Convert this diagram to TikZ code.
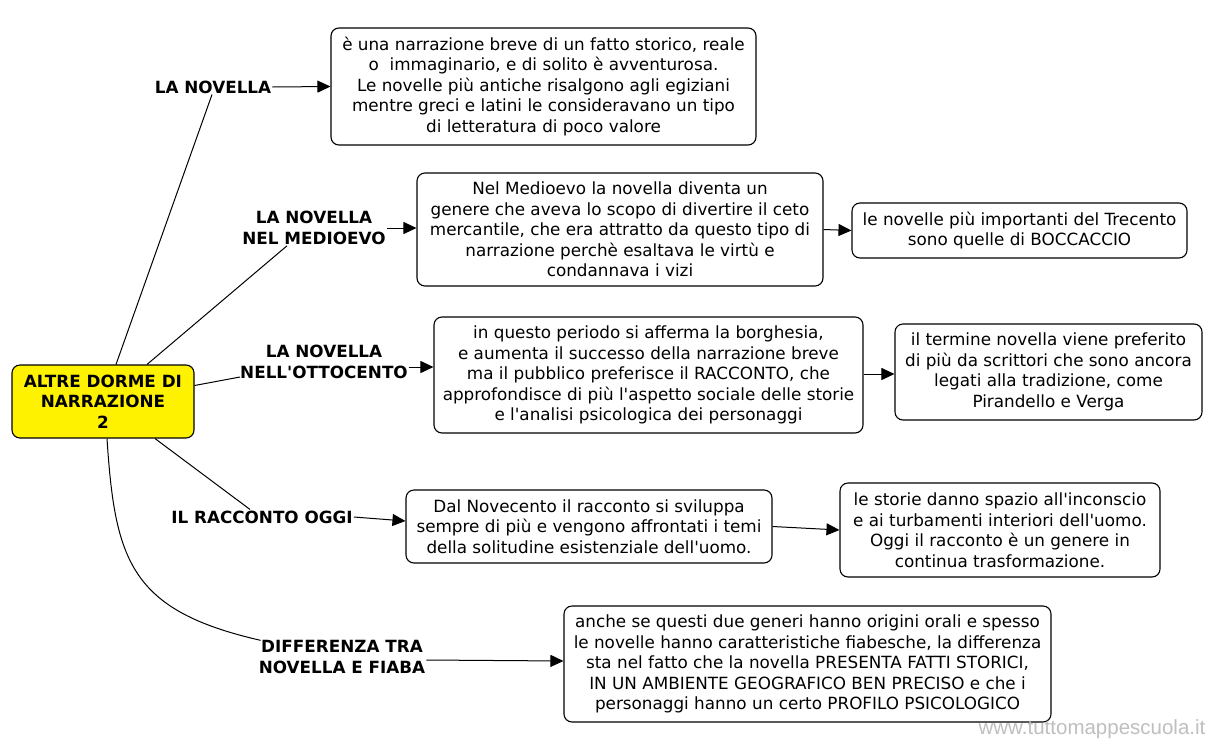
\documentclass[tikz,border=0pt]{standalone}
\usepackage{fontspec}
\setmainfont{DejaVu Sans}[Ligatures=TeXOff]
\newfontfamily\wmfont{Liberation Sans}
\usetikzlibrary{arrows.meta,calc}
\begin{document}
\begin{tikzpicture}[x=1pt,y=-1pt,
  txt/.style={font=\fontsize{16.8}{20.5}\selectfont},
  box/.style={txt,draw,rounded corners=8pt,line width=1.1pt,align=center,inner sep=0pt},
  root/.style={box,fill=yellow,font=\bfseries\fontsize{16.8}{20.5}\selectfont},
  lab/.style={font=\bfseries\fontsize{16.8}{20.5}\selectfont,align=center,inner sep=1pt},
  link/.style={line width=1pt},
  arr/.style={line width=1pt,-{Triangle[length=13pt,width=12pt]}}]
\useasboundingbox (0,0) rectangle (1212,739);
\fill[white] (0,0) rectangle (1212,739);

\node[root,minimum width=182pt,minimum height=73pt] (root) at (103,401.5) {ALTRE DORME DI\\NARRAZIONE\\2};

\node[lab] (lab1) at (213,87) {LA NOVELLA};
\node[lab] (lab2) at (314,228) {LA NOVELLA\\NEL MEDIOEVO};
\node[lab] (lab3) at (324,362) {LA NOVELLA\\NELL'OTTOCENTO};
\node[lab] (lab4) at (262,517) {IL RACCONTO OGGI};
\node[lab] (lab5) at (342,657) {DIFFERENZA TRA\\NOVELLA E FIABA};

\node[box,minimum width=425pt,minimum height=117pt] (box1) at (543.5,86.5) {è una narrazione breve di un fatto storico, reale\\o\ \ immaginario, e di solito è avventurosa.\\Le novelle più antiche risalgono agli egiziani\\mentre greci e latini le consideravano un tipo\\di letteratura di poco valore};
\node[box,minimum width=406pt,minimum height=113pt] (box2) at (620,229.5) {Nel Medioevo la novella diventa un\\genere che aveva lo scopo di divertire il ceto\\mercantile, che era attratto da questo tipo di\\narrazione perchè esaltava le virtù e\\condannava i vizi};
\node[box,minimum width=335pt,minimum height=55pt] (box3) at (1019.5,230.5) {le novelle più importanti del Trecento\\sono quelle di BOCCACCIO};
\node[box,minimum width=429pt,minimum height=116pt] (box4) at (648.5,375) {in questo periodo si afferma la borghesia,\\e aumenta il successo della narrazione breve\\ma il pubblico preferisce il RACCONTO, che\\approfondisce di più l'aspetto sociale delle storie\\e l'analisi psicologica dei personaggi};
\node[box,minimum width=307pt,minimum height=96pt] (box5) at (1048.5,372) {il termine novella viene preferito\\di più da scrittori che sono ancora\\legati alla tradizione, come\\Pirandello e Verga};
\node[box,minimum width=366pt,minimum height=73pt] (box6) at (589,526.5) {Dal Novecento il racconto si sviluppa\\sempre di più e vengono affrontati i temi\\della solitudine esistenziale dell'uomo.};
\node[box,minimum width=320pt,minimum height=94pt] (box7) at (1000,530) {le storie danno spazio all'inconscio\\e ai turbamenti interiori dell'uomo.\\Oggi il racconto è un genere in\\continua trasformazione.};
\node[box,minimum width=487pt,minimum height=116pt] (box8) at (807.5,664) {anche se questi due generi hanno origini orali e spesso\\le novelle hanno caratteristiche fiabesche, la differenza\\sta nel fatto che la novella PRESENTA FATTI STORICI,\\IN UN AMBIENTE GEOGRAFICO BEN PRECISO e che i\\personaggi hanno un certo PROFILO PSICOLOGICO};

\node[anchor=center,inner sep=0pt,text=black!25,font=\wmfont\fontsize{20.5}{22}\selectfont] (wm) at (1092,729) {www.tuttomappescuola.it};

% connectors from root
\draw[link] ($(root.north)+(13,0)$) -- ($(lab1.south)+(-1,0)$);
\draw[link] ($(root.north)+(44,0)$) -- ($(lab2.south)+(-27,0)$);
\draw[link] ($(root.east)+(0,-16)$) -- ($(lab3.west)+(1,15)$);
\draw[link] ($(root.south)+(52,0)$) -- ($(lab4.north)+(-12,0)$);
\draw[link] ($(root.south)+(4,0)$) .. controls ($(root.south)+(12,122)$) and ($(root.south)+(27,172)$) .. ($(lab5.north west)+(3,1)$);

% arrows
\draw[arr] (lab1.east) -- (box1.west);
\draw[arr] (lab2.east) -- ($(box2.west)+(0,-1.5)$);
\draw[arr] ($(lab3.east)+(0,5)$) -- ($(box4.west)+(0,-8)$);
\draw[arr] (lab4.east) -- ($(box6.west)+(0,-5.5)$);
\draw[arr] ($(lab5.east)+(0,3)$) -- ($(box8.west)+(0,-3)$);
\draw[arr] (box2.east) -- (box3.west);
\draw[arr] ($(box4.east)+(0,-1)$) -- ($(box5.west)+(0,2)$);
\draw[arr] (box6.east) -- (box7.west);
\end{tikzpicture}
\end{document}
